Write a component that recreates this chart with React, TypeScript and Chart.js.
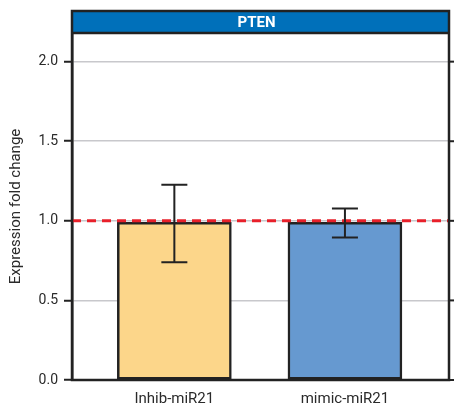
import React, { useEffect, useRef } from "react";
import { Chart, registerables } from "chart.js";

Chart.register(...registerables);

const title = "PTEN";
const categories = ["Inhib-miR21", "mimic-miR21"];
const values = [0.99, 0.99];
const errLow = [0.74, 0.895];
const errHigh = [1.227, 1.077];
const barColors = ["#FCD68A", "#6699D0"];
const yTicks = [0, 0.5, 1.0, 1.5, 2.0];
const refValue = 1.0;
const yTitle = "Expression fold change";

const overlay = {
  id: "overlay",
  afterDatasetsDraw(chart: any) {
    const { ctx, chartArea, scales } = chart;
    const x = scales.x;
    const y = scales.y;
    ctx.save();
    const ry = y.getPixelForValue(refValue);
    ctx.strokeStyle = "#E8202A";
    ctx.lineWidth = 3;
    ctx.setLineDash([9, 6]);
    ctx.beginPath();
    ctx.moveTo(chartArea.left, ry);
    ctx.lineTo(chartArea.right, ry);
    ctx.stroke();
    ctx.setLineDash([]);
    ctx.strokeStyle = "#222";
    ctx.lineWidth = 2;
    values.forEach((v, i) => {
      const cx = x.getPixelForValue(i);
      const yl = y.getPixelForValue(errLow[i]);
      const yh = y.getPixelForValue(errHigh[i]);
      ctx.beginPath();
      ctx.moveTo(cx, yl);
      ctx.lineTo(cx, yh);
      ctx.moveTo(cx - 13, yl);
      ctx.lineTo(cx + 13, yl);
      ctx.moveTo(cx - 13, yh);
      ctx.lineTo(cx + 13, yh);
      ctx.stroke();
    });
    ctx.restore();
  },
  afterDraw(chart: any) {
    const { ctx, chartArea, scales } = chart;
    const y = scales.y;
    const headH = 22;
    const top = chartArea.top - headH;
    ctx.save();
    ctx.fillStyle = "#0070BA";
    ctx.fillRect(chartArea.left, top, chartArea.right - chartArea.left, headH);
    ctx.fillStyle = "#fff";
    ctx.font = "bold 15px Roboto";
    ctx.textAlign = "center";
    ctx.textBaseline = "middle";
    ctx.fillText(title, (chartArea.left + chartArea.right) / 2 - 4, top + headH / 2 + 1);
    ctx.strokeStyle = "#222";
    ctx.lineWidth = 2.5;
    ctx.strokeRect(chartArea.left, top, chartArea.right - chartArea.left, chartArea.bottom - top);
    ctx.beginPath();
    ctx.moveTo(chartArea.left, chartArea.top);
    ctx.lineTo(chartArea.right, chartArea.top);
    ctx.stroke();
    ctx.lineWidth = 2;
    yTicks.forEach((t) => {
      const py = y.getPixelForValue(t);
      ctx.beginPath();
      ctx.moveTo(chartArea.right, py);
      ctx.lineTo(chartArea.right + 5, py);
      ctx.stroke();
    });
    ctx.restore();
  },
};

export default function App() {
  const ref = useRef<HTMLCanvasElement>(null);
  useEffect(() => {
    const chart = new Chart(ref.current!, {
      type: "bar",
      data: {
        datasets: [
          {
            data: values.map((v, i) => ({ x: i, y: v })),
            backgroundColor: barColors,
            borderColor: "#222",
            borderWidth: 2.5,
            borderSkipped: false,
            barThickness: 114,
          },
        ],
      },
      options: {
        animation: false,
        responsive: false,
        layout: { padding: { top: 33, right: 5, left: 0, bottom: 0 } },
        plugins: { legend: { display: false }, tooltip: { enabled: false } },
        scales: {
          x: {
            type: "linear",
            offset: false,
            min: -0.6,
            max: 1.61,
            afterBuildTicks: (axis: any) => {
              axis.ticks = categories.map((_, i) => ({ value: i }));
            },
            afterFit: (axis: any) => {
              axis.height = 23;
            },
            ticks: {
              callback: (v: any) => categories[v as number] ?? "",
              font: { family: "Roboto", size: 15 },
              color: "#2a2a2a",
              padding: 2,
              maxRotation: 0,
              autoSkip: false,
            },
            grid: { display: false, offset: false },
            border: { display: false },
          },
          y: {
            min: 0,
            max: 2.18,
            afterBuildTicks: (axis: any) => {
              axis.ticks = yTicks.map((v) => ({ value: v }));
            },
            afterFit: (axis: any) => {
              axis.width = 72;
            },
            ticks: {
              callback: (v: any) => Number(v).toFixed(1),
              font: { family: "Roboto", size: 14 },
              color: "#2a2a2a",
              padding: 6,
            },
            grid: {
              color: "#C8C8CC",
              lineWidth: 1.5,
              tickColor: "#222",
              tickLength: 8,
              tickWidth: 2,
            },
            border: { display: true, color: "#222", width: 2.5 },
            title: {
              display: true,
              text: yTitle,
              font: { family: "Roboto", size: 15 },
              color: "#2a2a2a",
              padding: { top: 7, bottom: 0 },
            },
          },
        },
      },
      plugins: [overlay],
    } as any);
    return () => chart.destroy();
  }, []);
  return (
    <div style={{ position: "fixed", left: 0, top: 0, width: 454, height: 403 }}>
      <canvas ref={ref} width={454} height={403} />
    </div>
  );
}
